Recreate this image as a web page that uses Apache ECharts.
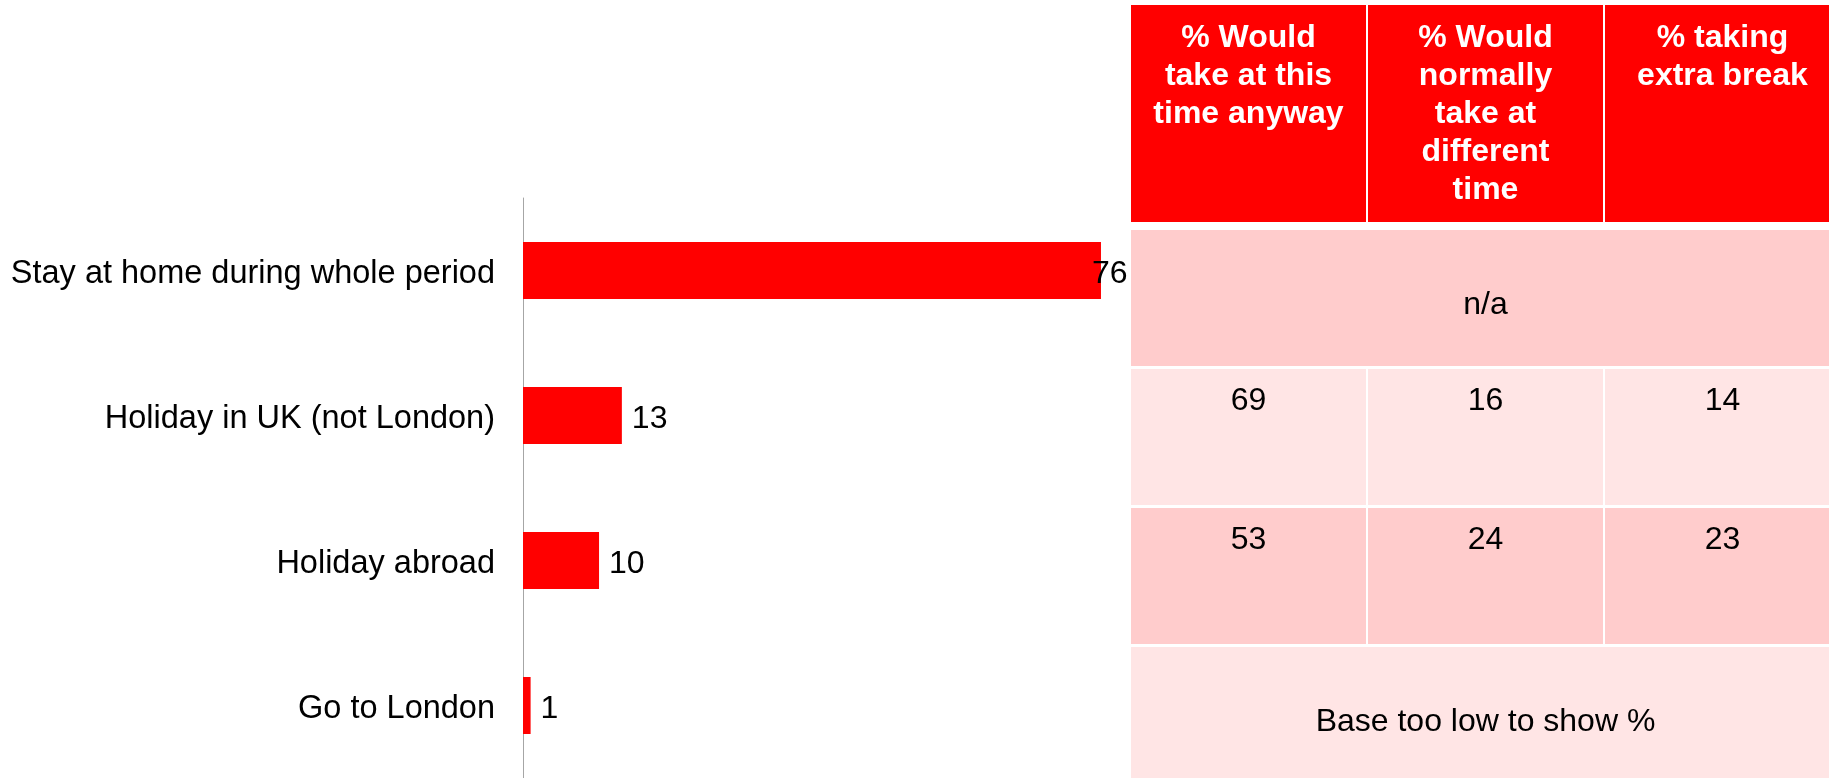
<!DOCTYPE html>
<html><head><meta charset="utf-8">
<script src="https://cdn.jsdelivr.net/npm/echarts@6/dist/echarts.min.js"></script>
<style>html,body{margin:0;padding:0;background:#fff}#chart{width:1829px;height:778px}</style>
</head><body><div id="chart"></div>
<script>
const categories = ['Stay at home during whole period', 'Holiday in UK (not London)', 'Holiday abroad', 'Go to London'];
const values = [76, 13, 10, 1];
const tableHeaders = ['% Would\ntake at this\ntime anyway', '% Would\nnormally\ntake at\ndifferent\ntime', '% taking\nextra break'];
const wouldTakeAnyway = [null, 69, 53, null];
const normallyDifferentTime = [null, 16, 24, null];
const takingExtraBreak = [null, 14, 23, null];
const rowNotes = ['n/a', null, null, 'Base too low to show %'];

const FONT = '"Liberation Sans", Arial, Helvetica, sans-serif';
const chart = echarts.init(document.getElementById('chart'), null, {renderer: 'canvas'});

const headerData = tableHeaders.map((t, i) => [i, 0, t]);
const bodyData = [];
categories.forEach((c, r) => {
  if (rowNotes[r] != null) bodyData.push([0, r, rowNotes[r], 3]);
  else [wouldTakeAnyway, normallyDifferentTime, takingExtraBreak].forEach((arr, ci) => bodyData.push([ci, r, String(arr[r]), 1]));
});
const rowFills = ['#FFCCCC', '#FFE5E5'];

function renderHeader(params, api) {
  const d = headerData[params.dataIndex];
  const c = api.coord([d[0], d[1]]);
  const s = api.size([1, 1]);
  const x0 = c[0] - s[0] / 2, y0 = c[1] - s[1] / 2;
  return {type: 'group', children: [
    {type: 'rect', shape: {x: x0 + 1, y: y0, width: s[0] - 2, height: s[1]}, style: {fill: '#FF0000'}},
    {type: 'text', style: {text: d[2], x: c[0], y: y0 + 14, align: 'center', verticalAlign: 'top',
      fill: '#FFFFFF', font: 'bold 32px ' + FONT, lineHeight: 38}}
  ]};
}

function renderBody(params, api) {
  const d = bodyData[params.dataIndex];
  const c = api.coord([d[0], d[1]]);
  const s = api.size([1, 1]);
  const x0 = c[0] - s[0] / 2, y0 = c[1] - s[1] / 2;
  const w = s[0] * d[3];
  const h = s[1] - 3;
  const merged = d[3] > 1;
  return {type: 'group', children: [
    {type: 'rect', shape: {x: x0 + 1, y: y0, width: w - 2, height: h}, style: {fill: rowFills[d[1] % 2]}},
    {type: 'text', style: {text: d[2], x: x0 + w / 2, y: merged ? y0 + h / 2 + 7 : y0 + 32,
      align: 'center', verticalAlign: 'middle', fill: '#000000', font: '32px ' + FONT}}
  ]};
}

const option = {
  animation: false,
  backgroundColor: '#FFFFFF',
  grid: [
    {left: 523, top: 198, width: 760.5, height: 580, outerBoundsMode: 'none', containLabel: false},
    {left: 1130, top: 5, width: 711, height: 217, outerBoundsMode: 'none', containLabel: false},
    {left: 1130, top: 230, width: 711, height: 556, outerBoundsMode: 'none', containLabel: false}
  ],
  xAxis: [
    {gridIndex: 0, type: 'value', min: 0, max: 100, show: false},
    {gridIndex: 1, type: 'category', data: tableHeaders, show: false},
    {gridIndex: 2, type: 'category', data: tableHeaders, show: false}
  ],
  yAxis: [
    {gridIndex: 0, type: 'category', data: categories, inverse: true,
      axisLine: {show: true, lineStyle: {color: '#A6A6A6', width: 1}},
      axisTick: {show: false}, splitLine: {show: false},
      axisLabel: {margin: 28, formatter: v => '{a|' + v + '}',
        rich: {a: {color: '#000000', fontSize: 32.5, fontFamily: FONT, padding: [7, 0, 0, 0]}}}},
    {gridIndex: 1, type: 'category', data: ['header'], show: false},
    {gridIndex: 2, type: 'category', data: categories, inverse: true, show: false}
  ],
  series: [
    {type: 'bar', xAxisIndex: 0, yAxisIndex: 0, barWidth: 57, silent: true,
      data: values.map((v, i) => i === 0 ? {value: v, label: {offset: [-19, 3.5]}} : v),
      itemStyle: {color: '#FF0000'},
      label: {show: true, position: 'right', distance: 10, offset: [0, 3.5], color: '#000000', fontSize: 32, fontFamily: FONT}},
    {type: 'custom', xAxisIndex: 1, yAxisIndex: 1, data: headerData, renderItem: renderHeader, silent: true, clip: false},
    {type: 'custom', xAxisIndex: 2, yAxisIndex: 2, data: bodyData, renderItem: renderBody, silent: true, clip: false}
  ]
};
chart.setOption(option);
</script>
</body></html>
